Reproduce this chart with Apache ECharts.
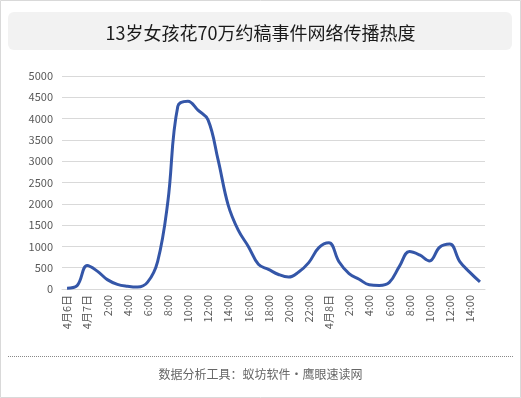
<!DOCTYPE html>
<html>
<head>
<meta charset="utf-8">
<script src="https://cdn.jsdelivr.net/npm/echarts@6/dist/echarts.min.js"></script>
<style>
  html, body { margin: 0; padding: 0; background: #fff; }
  #chart { width: 521px; height: 398px; }
</style>
</head>
<body>
<div id="chart"></div>
<script>
// 小时类目（每两小时显示一个标签）
const hours = [
  "4月6日", "23:00", "4月7日", "1:00", "2:00", "3:00", "4:00", "5:00", "6:00", "7:00",
  "8:00", "9:00", "10:00", "11:00", "12:00", "13:00", "14:00", "15:00", "16:00", "17:00",
  "18:00", "19:00", "20:00", "21:00", "22:00", "23:00", "4月8日", "1:00", "2:00", "3:00",
  "4:00", "5:00", "6:00", "7:00", "8:00", "9:00", "10:00", "11:00", "12:00", "13:00",
  "14:00", "15:00"
];
const heat = [
  20, 80, 550, 420, 220, 110, 65, 45, 160, 650,
  2030, 4290, 4410, 4200, 3970, 3030, 1970, 1380, 1000, 580,
  460, 340, 280, 400, 620, 970, 1085, 640, 360, 230,
  100, 85, 155, 530, 880, 800, 660, 980, 1055, 645,
  390, 165
];
const titleText = "13岁女孩花70万约稿事件网络传播热度";
const footerText = "数据分析工具：蚁坊软件・鹰眼速读网";

const myChart = echarts.init(document.getElementById("chart"));
const font = '"Noto Sans CJK SC", "Noto Sans", sans-serif';

const option = {
  animation: false,
  textStyle: { fontFamily: font },
  title: {
    text: titleText,
    left: "center",
    top: 19,
    textStyle: { fontSize: 18, fontWeight: "normal", color: "#1a1a1a", fontFamily: font },
  },
  graphic: [
    {
      type: "rect",
      z: -10,
      shape: { x: 0.5, y: 0.5, width: 520, height: 397 },
      style: { fill: "#fff", stroke: "#d9d9d9", lineWidth: 1 },
    },
    {
      type: "rect",
      z: -5,
      shape: { x: 8, y: 12, width: 504, height: 38, r: 6 },
      style: { fill: "#f2f2f2" },
    },
    {
      type: "line",
      shape: { x1: 8, y1: 356.5, x2: 513, y2: 356.5 },
      style: { stroke: "#888", lineWidth: 1, lineDash: [1, 1] },
    },
    {
      type: "text",
      x: 260.5,
      y: 374,
      style: {
        text: footerText,
        align: "center",
        verticalAlign: "middle",
        fill: "#666",
        fontSize: 12,
        fontFamily: font,
      },
    },
  ],
  grid: {
    left: 62,
    right: 36,
    top: 76,
    bottom: 109,
  },
  xAxis: {
    type: "category",
    boundaryGap: true,
    data: hours,
    axisLine: { lineStyle: { color: "#d9d9d9" } },
    axisTick: { show: false },
    axisLabel: {
      interval: 1,
      rotate: 90,
      color: "#595959",
      fontSize: 11,
      margin: 6,
    },
  },
  yAxis: {
    type: "value",
    min: 0,
    max: 5000,
    interval: 500,
    axisLine: { show: false },
    axisTick: { show: false },
    axisLabel: {
      color: "#595959",
      fontSize: 11,
      margin: 9,
      formatter: (v) => String(v),
    },
    splitLine: { lineStyle: { color: "#d9d9d9" } },
  },
  series: [
    {
      type: "line",
      data: heat,
      smooth: 0.4,
      symbol: "none",
      lineStyle: { color: "#3456a8", width: 3 },
    },
  ],
};

option && myChart.setOption(option);
</script>
</body>
</html>
